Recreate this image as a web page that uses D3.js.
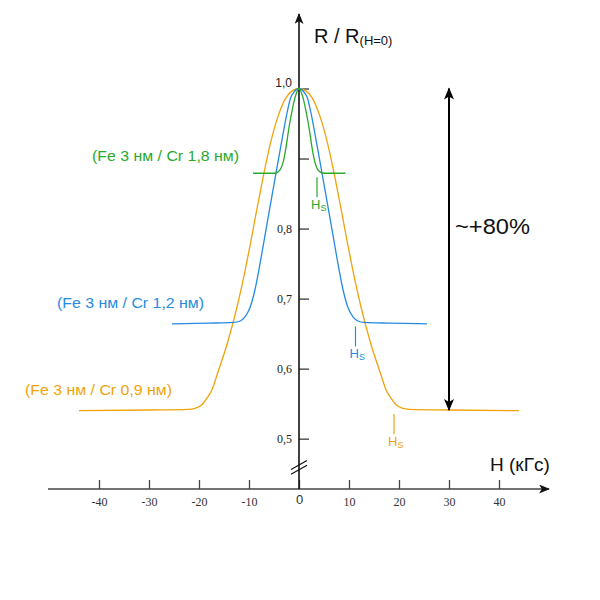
<!DOCTYPE html>
<html>
<head>
<meta charset="utf-8">
<script src="https://cdn.jsdelivr.net/npm/d3@7"></script>
<style>
  html, body { margin: 0; padding: 0; background: #fff; }
  svg { display: block; }
</style>
</head>
<body>
<svg id="chart" width="600" height="600"></svg>
<script>
// ---- data ----
const xTicks = [-40, -30, -20, -10, 0, 10, 20, 30, 40];
const xTickLabels = ["-40", "-30", "-20", "-10", "0", "10", "20", "30", "40"];
const yTicks = [0.5, 0.6, 0.7, 0.8, 0.9, 1.0];
const yTickLabels = ["0,5", "0,6", "0,7", "0,8", "", "1,0"];

const seriesNames = ["(Fe 3 нм / Cr 1,8 нм)", "(Fe 3 нм / Cr 1,2 нм)", "(Fe 3 нм / Cr 0,9 нм)"];
const seriesColors = ["#2aa92a", "#268be0", "#f0a30a"];

// Cr 1,8 nm (green)
const greenH = [-9.2, -5, -4.2, -3.6, -3.1, -2.55, -2.1, -1.5, -0.8, 0, 0.8, 1.5, 2.1, 2.55, 3.1, 3.6, 4.2, 5, 9.3];
const greenR = [0.879, 0.879, 0.881, 0.886, 0.897, 0.918, 0.940, 0.964, 0.987, 1.0, 0.987, 0.964, 0.940, 0.918, 0.897, 0.886, 0.881, 0.879, 0.879];
// Cr 1,2 nm (blue)
const blueH = [-25.4, -18, -13, -11.8, -10.8, -9.75, -8.8, -8.1, -7.2, -6.1, -4.9, -3.6, -2.4, -1.7, -1.0, 0, 1.0, 1.7, 2.4, 3.6, 4.9, 6.1, 7.2, 8.1, 8.8, 9.75, 10.8, 11.8, 13, 18, 25.6];
const blueR = [0.664, 0.665, 0.666, 0.668, 0.674, 0.688, 0.713, 0.738, 0.774, 0.819, 0.867, 0.919, 0.965, 0.986, 0.995, 1.0, 0.995, 0.986, 0.965, 0.919, 0.867, 0.819, 0.774, 0.738, 0.713, 0.688, 0.674, 0.668, 0.666, 0.665, 0.664];
// Cr 0,9 nm (orange)
const orangeH = [-44, -30, -22, -20.5, -19.5, -18.5, -17.4, -16.35, -14.3, -12.4, -10.9, -9.75, -8.55, -7.3, -5.7, -4.3, -2.6, -1.3, 0, 1.3, 2.6, 4.3, 5.7, 7.3, 8.55, 9.75, 10.9, 12.4, 14.3, 16.35, 17.4, 18.5, 19.5, 20.5, 22, 30, 44];
const orangeR = [0.540, 0.541, 0.542, 0.544, 0.548, 0.557, 0.570, 0.592, 0.637, 0.688, 0.736, 0.777, 0.823, 0.869, 0.922, 0.958, 0.987, 0.997, 1.0, 0.997, 0.987, 0.958, 0.922, 0.869, 0.823, 0.777, 0.736, 0.688, 0.637, 0.592, 0.570, 0.557, 0.548, 0.544, 0.542, 0.541, 0.540];

// saturation fields H_S (kGs) and the level where the marker sits
const hsField = [3.6, 11.3, 19];
const hsLevel = [0.879, 0.666, 0.541];

// total change arrow
const deltaH = 30;
const deltaFrom = 1.0;
const deltaTo = 0.541;
const deltaLabel = "~+80%";

// ---- drawing ----
const svg = d3.select("#chart");
const x = d3.scaleLinear().domain([-40, 40]).range([99, 499]);
const y = d3.scaleLinear().domain([0.5, 1.0]).range([438.7, 88.5]);
const axisY = 489;
const sans = "Arial, 'Liberation Sans', Helvetica, sans-serif";
const serif = "'Times New Roman', 'Liberation Serif', 'DejaVu Serif', serif";

const defs = svg.append("defs");
function marker(id, color, w, h) {
  defs.append("marker")
    .attr("id", id)
    .attr("viewBox", "0 0 12 10")
    .attr("refX", 11).attr("refY", 5)
    .attr("markerUnits", "userSpaceOnUse")
    .attr("markerWidth", w).attr("markerHeight", h)
    .attr("orient", "auto-start-reverse")
    .append("path")
    .attr("d", "M0,0 L12,5 L0,10 L3,5 Z")
    .attr("fill", color);
}
marker("arrAxis", "#111", 12, 9);
marker("arrBig", "#000", 13, 10);

// X axis
const xAxis = d3.axisBottom(x)
  .tickValues(xTicks)
  .tickFormat((d, i) => xTickLabels[i])
  .tickSizeInner(-9).tickSizeOuter(0).tickPadding(8);
const gx = svg.append("g").attr("transform", `translate(0,${axisY})`).call(xAxis);
gx.select(".domain").remove();
gx.selectAll(".tick line").attr("stroke", "#444").attr("stroke-width", 1.3);
gx.selectAll(".tick text").attr("font-family", serif).attr("font-size", 12).attr("fill", "#333");
gx.selectAll(".tick text").filter(d => d === 0)
  .attr("font-family", sans).attr("font-size", 13).attr("dy", "0.5em");

svg.append("line")
  .attr("x1", 48).attr("x2", 549)
  .attr("y1", axisY).attr("y2", axisY)
  .attr("stroke", "#444").attr("stroke-width", 1.5)
  .attr("marker-end", "url(#arrAxis)");

// Y axis
const yAxis = d3.axisLeft(y)
  .tickValues(yTicks)
  .tickFormat((d, i) => yTickLabels[i])
  .tickSizeInner(-10).tickSizeOuter(0).tickPadding(7);
const gy = svg.append("g").attr("transform", `translate(${x(0)},0)`).call(yAxis);
gy.select(".domain").remove();
gy.selectAll(".tick line").attr("stroke", "#555").attr("stroke-width", 1.5);
gy.selectAll(".tick text").attr("font-family", serif).attr("font-size", 12).attr("fill", "#222");
gy.selectAll(".tick text").filter(d => d === 1.0)
  .attr("font-family", sans).attr("font-size", 12).attr("dy", "-0.15em");

svg.append("line")
  .attr("x1", x(0)).attr("x2", x(0))
  .attr("y1", axisY).attr("y2", 14)
  .attr("stroke", "#111").attr("stroke-width", 1.6)
  .attr("marker-end", "url(#arrAxis)");

// axis break marks
[0, 4.8].forEach(off => {
  svg.append("line")
    .attr("x1", x(0) - 8).attr("y1", 469.5 + off)
    .attr("x2", x(0) + 8).attr("y2", 460.5 + off)
    .attr("stroke", "#111").attr("stroke-width", 1.2);
});

// axis titles
const yTitle = svg.append("text")
  .attr("x", 314).attr("y", 43)
  .attr("font-family", sans).attr("font-size", 20).attr("fill", "#111");
yTitle.append("tspan").text("R / R");
yTitle.append("tspan").attr("font-size", 13).attr("dy", 2).text("(H=0)");

svg.append("text")
  .attr("x", 490).attr("y", 471)
  .attr("font-family", sans).attr("font-size", 19).attr("fill", "#111")
  .text("H (кГс)");

// curves
const seriesData = [
  greenH.map((h, i) => [h, greenR[i]]),
  blueH.map((h, i) => [h, blueR[i]]),
  orangeH.map((h, i) => [h, orangeR[i]])
];
const line = d3.line().x(d => x(d[0])).y(d => y(d[1])).curve(d3.curveMonotoneX);
// draw orange first, then blue, then green on top
[2, 1, 0].forEach(i => {
  svg.append("path")
    .attr("d", line(seriesData[i]))
    .attr("fill", "none")
    .attr("stroke", seriesColors[i])
    .attr("stroke-width", 1.3);
});

// series labels
const labelPos = [[92, 161], [57, 308], [25, 395]];
seriesNames.forEach((name, i) => {
  svg.append("text")
    .attr("x", labelPos[i][0]).attr("y", labelPos[i][1])
    .attr("font-family", sans).attr("font-size", 14)
    .attr("fill", seriesColors[i])
    .attr("textLength", 147).attr("lengthAdjust", "spacingAndGlyphs")
    .text(name);
});

// H_S markers
hsField.forEach((h, i) => {
  const px = x(h);
  const py = y(hsLevel[i]);
  svg.append("line")
    .attr("x1", px).attr("x2", px)
    .attr("y1", py + 4).attr("y2", py + 24)
    .attr("stroke", seriesColors[i]).attr("stroke-width", 1.2);
  const t = svg.append("text")
    .attr("x", px - 6).attr("y", py + 36)
    .attr("font-family", sans).attr("font-size", 13)
    .attr("fill", seriesColors[i]);
  t.append("tspan").text("H");
  t.append("tspan").attr("font-size", 9).attr("dy", 2).text("S");
});

// big double arrow
svg.append("line")
  .attr("x1", x(deltaH)).attr("x2", x(deltaH))
  .attr("y1", y(deltaTo)).attr("y2", y(deltaFrom))
  .attr("stroke", "#000").attr("stroke-width", 2)
  .attr("marker-start", "url(#arrBig)")
  .attr("marker-end", "url(#arrBig)");
svg.append("text")
  .attr("x", 455).attr("y", 234)
  .attr("font-family", sans).attr("font-size", 22).attr("fill", "#111")
  .attr("textLength", 75).attr("lengthAdjust", "spacingAndGlyphs")
  .text(deltaLabel);
</script>
</body>
</html>
